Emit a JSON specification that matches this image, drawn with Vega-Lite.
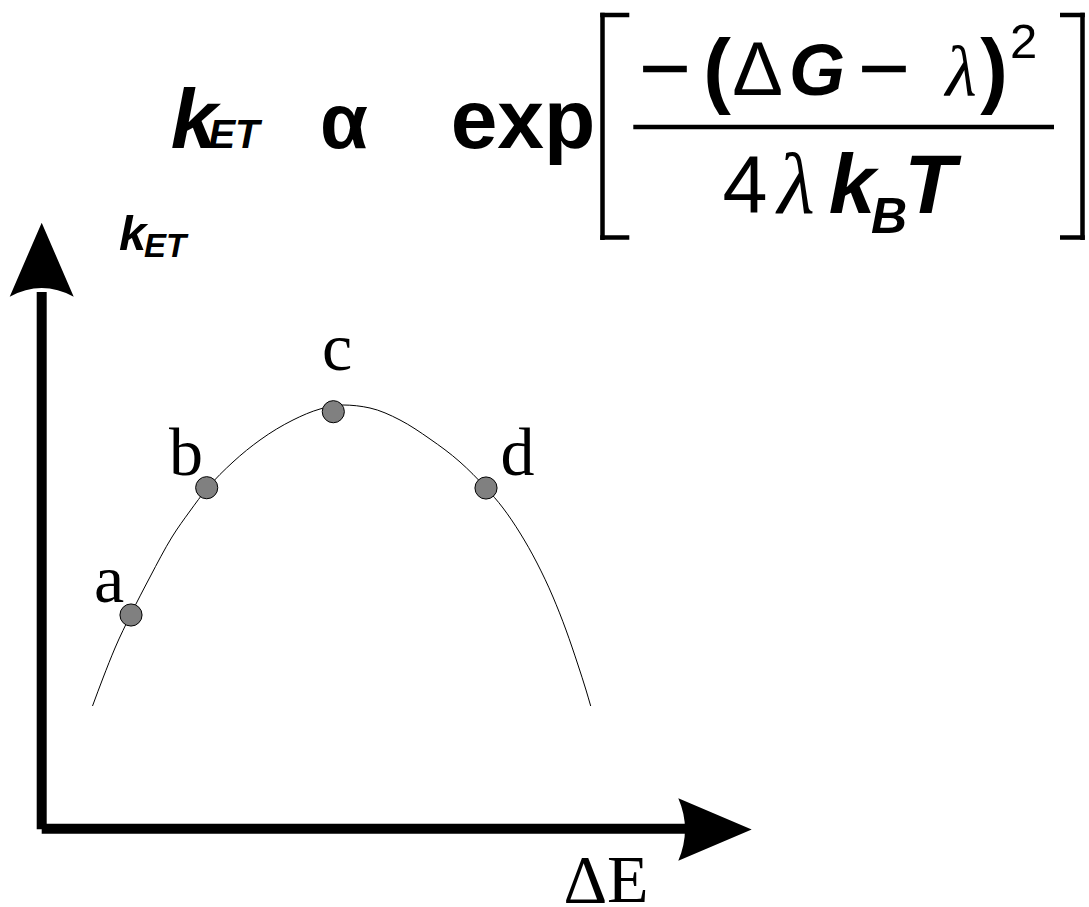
{
  "$schema": "https://vega.github.io/schema/vega-lite/v6.json",
  "width": 1089,
  "height": 907,
  "padding": 0,
  "autosize": {"type": "none"},
  "background": "white",
  "config": {"view": {"stroke": null}},
  "datasets": {
    "bars": [
      {"x": 41.7, "y": 829.3, "x2": 41.7, "y2": 292},
      {"x": 41.7, "y": 828.7, "x2": 690, "y2": 828.7}
    ],
    "brackets": [
      {"x": 602.5, "y": 12.7, "x2": 602.5, "y2": 240},
      {"x": 600.2, "y": 15, "x2": 629.3, "y2": 15},
      {"x": 600.2, "y": 237.5, "x2": 629.3, "y2": 237.5},
      {"x": 1082.5, "y": 12.7, "x2": 1082.5, "y2": 240},
      {"x": 1060, "y": 15, "x2": 1084.8, "y2": 15},
      {"x": 1060, "y": 237.5, "x2": 1084.8, "y2": 237.5},
      {"x": 633.3, "y": 127, "x2": 1054, "y2": 127}
    ],
    "curve": [
      {"x": 92.5, "y": 706},
      {"x": 103, "y": 678},
      {"x": 115, "y": 648},
      {"x": 131, "y": 614},
      {"x": 150, "y": 577},
      {"x": 172, "y": 537},
      {"x": 190, "y": 511},
      {"x": 206.7, "y": 489},
      {"x": 233, "y": 462},
      {"x": 260, "y": 440},
      {"x": 293, "y": 420},
      {"x": 320, "y": 409},
      {"x": 343, "y": 405},
      {"x": 370, "y": 408},
      {"x": 400, "y": 420},
      {"x": 430, "y": 439},
      {"x": 460, "y": 462},
      {"x": 486, "y": 488},
      {"x": 503, "y": 508},
      {"x": 520, "y": 533},
      {"x": 537, "y": 563},
      {"x": 553, "y": 597},
      {"x": 566, "y": 630},
      {"x": 578, "y": 665},
      {"x": 586, "y": 690},
      {"x": 590.7, "y": 706}
    ],
    "upArrow": [{"x": 41.7, "y": 259.7}],
    "rightArrow": [{"x": 715, "y": 829.5}],
    "dots": [
      {"x": 131, "y": 615, "label": "a"},
      {"x": 206.7, "y": 487.7, "label": "b"},
      {"x": 333.3, "y": 411.7, "label": "c"},
      {"x": 486, "y": 488, "label": "d"}
    ],
    "dotLabels": [
      {"x": 109, "y": 601.7, "t": "a"},
      {"x": 186, "y": 475, "t": "b"},
      {"x": 337, "y": 370, "t": "c"},
      {"x": 517.5, "y": 475, "t": "d"},
      {"x": 606, "y": 902, "t": "ΔE"}
    ],
    "kBig": [{"x": 194, "y": 148, "t": "k"}],
    "etBig": [{"x": 234, "y": 148, "t": "ET"}],
    "kAxis": [{"x": 132.5, "y": 250, "t": "k"}],
    "etAxis": [{"x": 165, "y": 257, "t": "ET"}],
    "alpha": [{"x": 344, "y": 148, "t": "α"}],
    "boldBig": [{"x": 523, "y": 148, "t": "exp"}],
    "gNum": [{"x": 817, "y": 95, "t": "G"}],
    "minus": [
      {"x": 665, "y": 72, "t": "−"},
      {"x": 884, "y": 72, "t": "−"}
    ],
    "parens": [
      {"x": 717, "y": 97.5, "t": "("},
      {"x": 994, "y": 97.5, "t": ")"}
    ],
    "deltaNum": [{"x": 757.5, "y": 95, "t": "Δ"}],
    "lambdaNum": [{"x": 961, "y": 96, "t": "λ"}],
    "sup2": [{"x": 1023.5, "y": 58, "t": "2"}],
    "four": [{"x": 745, "y": 213, "t": "4"}],
    "lambdaDen": [{"x": 796, "y": 213, "t": "λ"}],
    "kTDen": [
      {"x": 852, "y": 213, "t": "k"},
      {"x": 930, "y": 213, "t": "T"}
    ],
    "bSub": [{"x": 889, "y": 233, "t": "B"}]
  },
  "data": {"name": "bars"},
  "encoding": {
    "x": {"field": "x", "type": "quantitative", "axis": null, "scale": {"domain": [0, 1089], "nice": false, "zero": false}},
    "y": {"field": "y", "type": "quantitative", "axis": null, "scale": {"domain": [0, 907], "nice": false, "zero": false, "reverse": true}}
  },
  "layer": [
    {
      "data": {"name": "bars"},
      "mark": {"type": "rule", "color": "black", "strokeWidth": 10},
      "encoding": {"x2": {"field": "x2"}, "y2": {"field": "y2"}}
    },
    {
      "data": {"name": "brackets"},
      "mark": {"type": "rule", "color": "black", "strokeWidth": 4.5},
      "encoding": {"x2": {"field": "x2"}, "y2": {"field": "y2"}}
    },
    {
      "data": {"name": "curve"},
      "mark": {"type": "line", "color": "black", "strokeWidth": 1, "interpolate": "monotone"},
      "encoding": {"order": {"field": "x", "type": "quantitative"}}
    },
    {
      "data": {"name": "upArrow"},
      "mark": {"type": "point", "shape": "M0,-1L0.865,1Q0,0.53,-0.865,1Z", "filled": true, "fill": "black", "strokeWidth": 0, "opacity": 1, "size": 5476}
    },
    {
      "data": {"name": "rightArrow"},
      "mark": {"type": "point", "shape": "M1,0L-1,0.85Q-0.634,0,-1,-0.85Z", "filled": true, "fill": "black", "strokeWidth": 0, "opacity": 1, "size": 5388}
    },
    {
      "data": {"name": "dots"},
      "mark": {"type": "point", "shape": "circle", "filled": true, "fill": "#808080", "stroke": "black", "strokeWidth": 1, "opacity": 1, "size": 490}
    },
    {
      "data": {"name": "dotLabels"},
      "mark": {"type": "text", "font": "Liberation Serif", "fontSize": 68, "align": "center", "baseline": "alphabetic", "color": "black"},
      "encoding": {"text": {"field": "t"}}
    },
    {
      "data": {"name": "kBig"},
      "mark": {"type": "text", "font": "Liberation Sans", "fontWeight": "bold", "fontStyle": "italic", "fontSize": 84, "align": "center", "baseline": "alphabetic", "color": "black"},
      "encoding": {"text": {"field": "t"}}
    },
    {
      "data": {"name": "etBig"},
      "mark": {"type": "text", "font": "Liberation Sans", "fontWeight": "bold", "fontStyle": "italic", "fontSize": 40, "align": "center", "baseline": "alphabetic", "color": "black"},
      "encoding": {"text": {"field": "t"}}
    },
    {
      "data": {"name": "kAxis"},
      "mark": {"type": "text", "font": "Liberation Sans", "fontWeight": "bold", "fontStyle": "italic", "fontSize": 49, "align": "center", "baseline": "alphabetic", "color": "black"},
      "encoding": {"text": {"field": "t"}}
    },
    {
      "data": {"name": "etAxis"},
      "mark": {"type": "text", "font": "Liberation Sans", "fontWeight": "bold", "fontStyle": "italic", "fontSize": 33, "align": "center", "baseline": "alphabetic", "color": "black"},
      "encoding": {"text": {"field": "t"}}
    },
    {
      "data": {"name": "alpha"},
      "mark": {"type": "text", "font": "Liberation Sans", "fontWeight": "bold", "fontSize": 78, "align": "center", "baseline": "alphabetic", "color": "black"},
      "encoding": {"text": {"field": "t"}}
    },
    {
      "data": {"name": "boldBig"},
      "mark": {"type": "text", "font": "Liberation Sans", "fontWeight": "bold", "fontSize": 84, "align": "center", "baseline": "alphabetic", "color": "black"},
      "encoding": {"text": {"field": "t"}}
    },
    {
      "data": {"name": "gNum"},
      "mark": {"type": "text", "font": "Liberation Sans", "fontWeight": "bold", "fontStyle": "italic", "fontSize": 72, "align": "center", "baseline": "alphabetic", "color": "black"},
      "encoding": {"text": {"field": "t"}}
    },
    {
      "data": {"name": "minus"},
      "mark": {"type": "text", "font": "Liberation Sans", "fontSize": 90, "align": "center", "baseline": "middle", "color": "black"},
      "encoding": {"text": {"field": "t"}}
    },
    {
      "data": {"name": "parens"},
      "mark": {"type": "text", "font": "Liberation Sans", "fontWeight": "bold", "fontSize": 83, "align": "center", "baseline": "alphabetic", "color": "black"},
      "encoding": {"text": {"field": "t"}}
    },
    {
      "data": {"name": "deltaNum"},
      "mark": {"type": "text", "font": "Liberation Sans", "fontSize": 76, "align": "center", "baseline": "alphabetic", "color": "black"},
      "encoding": {"text": {"field": "t"}}
    },
    {
      "data": {"name": "lambdaNum"},
      "mark": {"type": "text", "font": "Liberation Serif", "fontStyle": "italic", "fontSize": 72, "align": "center", "baseline": "alphabetic", "color": "black"},
      "encoding": {"text": {"field": "t"}}
    },
    {
      "data": {"name": "sup2"},
      "mark": {"type": "text", "font": "Liberation Sans", "fontSize": 49, "align": "center", "baseline": "alphabetic", "color": "black"},
      "encoding": {"text": {"field": "t"}}
    },
    {
      "data": {"name": "four"},
      "mark": {"type": "text", "font": "Liberation Sans", "fontSize": 81, "align": "center", "baseline": "alphabetic", "color": "black"},
      "encoding": {"text": {"field": "t"}}
    },
    {
      "data": {"name": "lambdaDen"},
      "mark": {"type": "text", "font": "Liberation Serif", "fontStyle": "italic", "fontSize": 86, "align": "center", "baseline": "alphabetic", "color": "black"},
      "encoding": {"text": {"field": "t"}}
    },
    {
      "data": {"name": "kTDen"},
      "mark": {"type": "text", "font": "Liberation Sans", "fontWeight": "bold", "fontStyle": "italic", "fontSize": 84, "align": "center", "baseline": "alphabetic", "color": "black"},
      "encoding": {"text": {"field": "t"}}
    },
    {
      "data": {"name": "bSub"},
      "mark": {"type": "text", "font": "Liberation Sans", "fontWeight": "bold", "fontStyle": "italic", "fontSize": 50, "align": "center", "baseline": "alphabetic", "color": "black"},
      "encoding": {"text": {"field": "t"}}
    }
  ]
}
